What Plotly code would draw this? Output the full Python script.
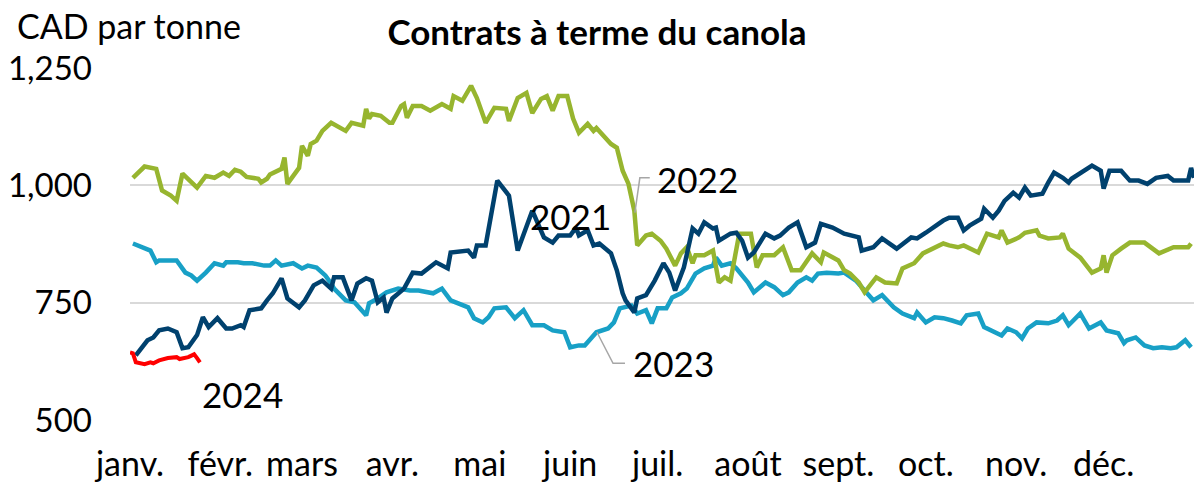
import plotly.graph_objects as go

# Month labels (tick positions = first day of each month, day-of-year)
months = ["janv.", "févr.", "mars", "avr.", "mai", "juin", "juil.", "août",
          "sept.", "oct.", "nov.", "déc."]
month_start_day = [0, 31, 59, 90, 120, 151, 181, 212, 243, 273, 304, 334]

# Canola futures, CAD per tonne, by day of year
days_2021 = [2, 6, 8, 10, 13, 16, 18, 20, 23, 25,
             27, 30, 33, 35, 38, 39, 41, 45, 47, 49,
             52, 54, 58, 60, 63, 66, 69, 70, 73, 76,
             78, 81, 83, 85, 87, 88, 90, 94, 97, 100,
             105, 109, 110, 114, 116, 118, 119, 122, 126, 130,
             133, 138, 142, 145, 147, 151, 153, 154, 157, 159,
             161, 165, 167, 169, 170, 173, 174, 177, 180, 183,
             185, 187, 190, 193, 195, 197, 200, 201, 202, 206,
             208, 210, 212, 214, 218, 221, 223, 226, 229, 232,
             235, 237, 241, 245, 250, 251, 255, 258, 263, 268,
             270, 273, 275, 279, 281, 284, 286, 288, 292, 293,
             296, 298, 300, 303, 305, 307, 309, 313, 315, 317,
             320, 322, 323, 327, 330, 333, 334, 336, 340, 343,
             346, 349, 352, 356, 358, 363, 364, 365]
vals_2021 = [638, 670, 676, 691, 695, 687, 653, 655, 681, 719,
             698, 717, 695, 695, 702, 698, 734, 738, 755, 770,
             802, 759, 740, 755, 787, 797, 780, 804, 804, 755,
             791, 802, 797, 751, 761, 729, 759, 780, 814, 812,
             836, 823, 857, 861, 861, 846, 872, 872, 1010, 978,
             861, 946, 889, 878, 893, 893, 910, 893, 904, 872,
             876, 855, 819, 770, 755, 729, 759, 766, 797, 834,
             814, 776, 825, 908, 897, 921, 908, 910, 882, 897,
             899, 882, 846, 857, 897, 887, 893, 910, 921, 868,
             878, 918, 910, 897, 889, 861, 868, 887, 865, 889,
             887, 899, 908, 925, 931, 931, 904, 914, 929, 950,
             931, 946, 967, 984, 974, 995, 978, 982, 1006, 1027,
             1016, 1006, 1014, 1031, 1042, 1031, 993, 1031, 1031, 1010,
             1010, 1003, 1016, 1020, 1010, 1010, 1037, 1016]

days_2022 = [1, 3, 5, 9, 11, 14, 16, 18, 23, 26,
             29, 32, 34, 36, 38, 40, 44, 45, 47, 48,
             52, 53, 54, 58, 59, 61, 62, 64, 66, 69,
             74, 76, 80, 81, 82, 83, 86, 89, 90, 93,
             94, 95, 97, 100, 103, 107, 110, 111, 114, 117,
             119, 122, 125, 129, 130, 133, 136, 138, 141, 143,
             145, 147, 150, 152, 154, 157, 159, 160, 165, 167,
             169, 171, 173, 174, 177, 179, 182, 184, 187, 189,
             191, 193, 194, 197, 200, 202, 204, 206, 209, 213,
             215, 217, 221, 224, 227, 230, 234, 237, 238, 243,
             245, 247, 250, 252, 256, 259, 263, 265, 269, 272,
             275, 279, 281, 284, 286, 291, 294, 298, 299, 301,
             305, 307, 311, 312, 315, 319, 320, 322, 326, 330,
             333, 334, 335, 337, 340, 343, 348, 353, 358, 363,
             364]
vals_2022 = [1016, 1027, 1040, 1035, 989, 978, 967, 1025, 995, 1020,
             1016, 1027, 1020, 1033, 1029, 1018, 1014, 1006, 1014, 1023,
             1035, 1059, 1003, 1037, 1084, 1063, 1088, 1095, 1116, 1133,
             1116, 1133, 1127, 1163, 1142, 1152, 1148, 1133, 1133, 1169,
             1173, 1144, 1169, 1169, 1159, 1173, 1163, 1190, 1180, 1212,
             1186, 1133, 1165, 1163, 1137, 1186, 1197, 1154, 1184, 1190,
             1159, 1190, 1190, 1142, 1112, 1131, 1116, 1122, 1088, 1080,
             1031, 1003, 946, 872, 893, 897, 882, 865, 829, 855,
             868, 834, 851, 851, 861, 793, 804, 797, 897, 897,
             825, 851, 851, 868, 819, 819, 855, 836, 857, 840,
             819, 812, 793, 772, 804, 793, 791, 823, 834, 855,
             865, 876, 872, 868, 872, 857, 897, 889, 904, 878,
             889, 899, 904, 893, 887, 889, 897, 865, 846, 814,
             823, 851, 814, 851, 865, 878, 878, 855, 868, 868,
             876]

days_2023 = [1, 4, 7, 9, 10, 16, 19, 21, 23, 26,
             29, 32, 33, 37, 39, 42, 46, 48, 50, 52,
             56, 59, 61, 64, 67, 69, 70, 74, 77, 81,
             82, 85, 88, 92, 96, 99, 104, 107, 110, 116,
             118, 121, 123, 125, 129, 132, 135, 138, 142, 145,
             149, 151, 154, 156, 160, 164, 166, 168, 172, 174,
             177, 179, 181, 184, 186, 189, 191, 194, 197, 200,
             201, 203, 206, 208, 212, 214, 218, 221, 224, 226,
             229, 232, 234, 236, 239, 243, 245, 249, 251, 255,
             258, 262, 265, 269, 270, 273, 276, 279, 282, 285,
             287, 291, 293, 297, 299, 301, 304, 306, 308, 311,
             315, 318, 320, 322, 326, 329, 333, 335, 339, 341,
             342, 345, 348, 351, 354, 357, 359, 362, 364]
vals_2023 = [876, 868, 861, 836, 840, 840, 814, 808, 797, 814,
             834, 829, 836, 836, 834, 834, 829, 829, 840, 829,
             834, 823, 829, 825, 808, 791, 780, 755, 751, 723,
             749, 759, 772, 780, 776, 776, 770, 780, 755, 740,
             717, 708, 719, 738, 740, 717, 734, 702, 702, 691,
             687, 655, 659, 659, 687, 695, 708, 738, 744, 727,
             734, 706, 738, 738, 761, 770, 780, 812, 823, 829,
             846, 829, 834, 823, 793, 772, 793, 783, 766, 772,
             793, 804, 797, 812, 814, 812, 814, 797, 783, 755,
             766, 740, 727, 717, 729, 708, 719, 717, 712, 706,
             723, 727, 698, 687, 680, 695, 687, 674, 695, 708,
             706, 712, 723, 702, 727, 695, 708, 691, 685, 664,
             670, 676, 659, 653, 655, 653, 655, 670, 655]

days_2024 = [0, 1, 2, 5, 7, 8, 10, 13, 16, 17, 20, 22, 23, 24]
vals_2024 = [644, 642, 623, 619, 623, 621, 627, 632, 634, 630, 634, 640, 632, 623]

y_ticks = [500, 750, 1000, 1250]
y_labels = ["500", "750", "1,000", "1,250"]

FONT = "Lato, 'Noto Sans', sans-serif"
C2021 = "#00416e"
C2022 = "#97b52f"
C2023 = "#18a0c6"
C2024 = "#ff0000"

fig = go.Figure()
fig.add_trace(go.Scatter(x=days_2023, y=vals_2023, mode="lines",
                         line=dict(color=C2023, width=4.5), name="2023"))
fig.add_trace(go.Scatter(x=days_2022, y=vals_2022, mode="lines",
                         line=dict(color=C2022, width=4.5), name="2022"))
fig.add_trace(go.Scatter(x=days_2021, y=vals_2021, mode="lines",
                         line=dict(color=C2021, width=4.5), name="2021"))
fig.add_trace(go.Scatter(x=days_2024, y=vals_2024, mode="lines",
                         line=dict(color=C2024, width=4), name="2024"))

# Leader lines for labels
fig.add_shape(type="path", path="M 173.2,942 L 174.9,1016 L 178.3,1016",
              line=dict(color="#a6a6a6", width=1.5), xref="x", yref="y")
fig.add_shape(type="path", path="M 160.2,687 L 165.7,621 L 169.8,621",
              line=dict(color="#a6a6a6", width=1.5), xref="x", yref="y")

lab_font = dict(family=FONT, size=35, color="#000000")
fig.add_annotation(x=151, y=934, text="2021", showarrow=False, font=lab_font)
fig.add_annotation(x=180.0, y=1013, text="2022", showarrow=False, font=lab_font,
                   xanchor="left")
fig.add_annotation(x=172.0, y=621, text="2023", showarrow=False, font=lab_font,
                   xanchor="left")
fig.add_annotation(x=38.5, y=555, text="2024", showarrow=False, font=lab_font)

fig.add_annotation(xref="paper", yref="paper", x=-0.108, y=1.0, yshift=42,
                   xanchor="left", yanchor="middle", text="CAD par tonne",
                   showarrow=False, font=dict(family=FONT, size=34, color="#000000"))

fig.update_layout(
    width=1194, height=485,
    margin=dict(l=130, r=0, t=67, b=64, autoexpand=False),
    paper_bgcolor="white", plot_bgcolor="white",
    showlegend=False,
    title=dict(text="<b>Contrats à terme du canola</b>", x=0.5, xanchor="center",
               y=1 - 33 / 485, yanchor="middle",
               font=dict(family=FONT, size=35, color="#000000")),
    font=dict(family=FONT, size=34, color="#000000"),
    xaxis=dict(range=[0, 365], tickmode="array", tickvals=month_start_day,
               ticktext=months, showgrid=False, zeroline=False, showline=False,
               ticks="", ticklabelstandoff=20, tickfont=dict(size=34),
               automargin=False),
    yaxis=dict(range=[498, 1252], tickmode="array", tickvals=y_ticks,
               ticktext=y_labels, showgrid=True, gridcolor="#d9d9d9", gridwidth=2,
               zeroline=False, showline=False, ticks="", ticklabelstandoff=37,
               tickfont=dict(size=33), automargin=False),
)

fig.write_html("out.html",
               config={"displayModeBar": False},
               post_script="document.body.style.margin='0px';"
                           "document.body.style.overflow='hidden';")
